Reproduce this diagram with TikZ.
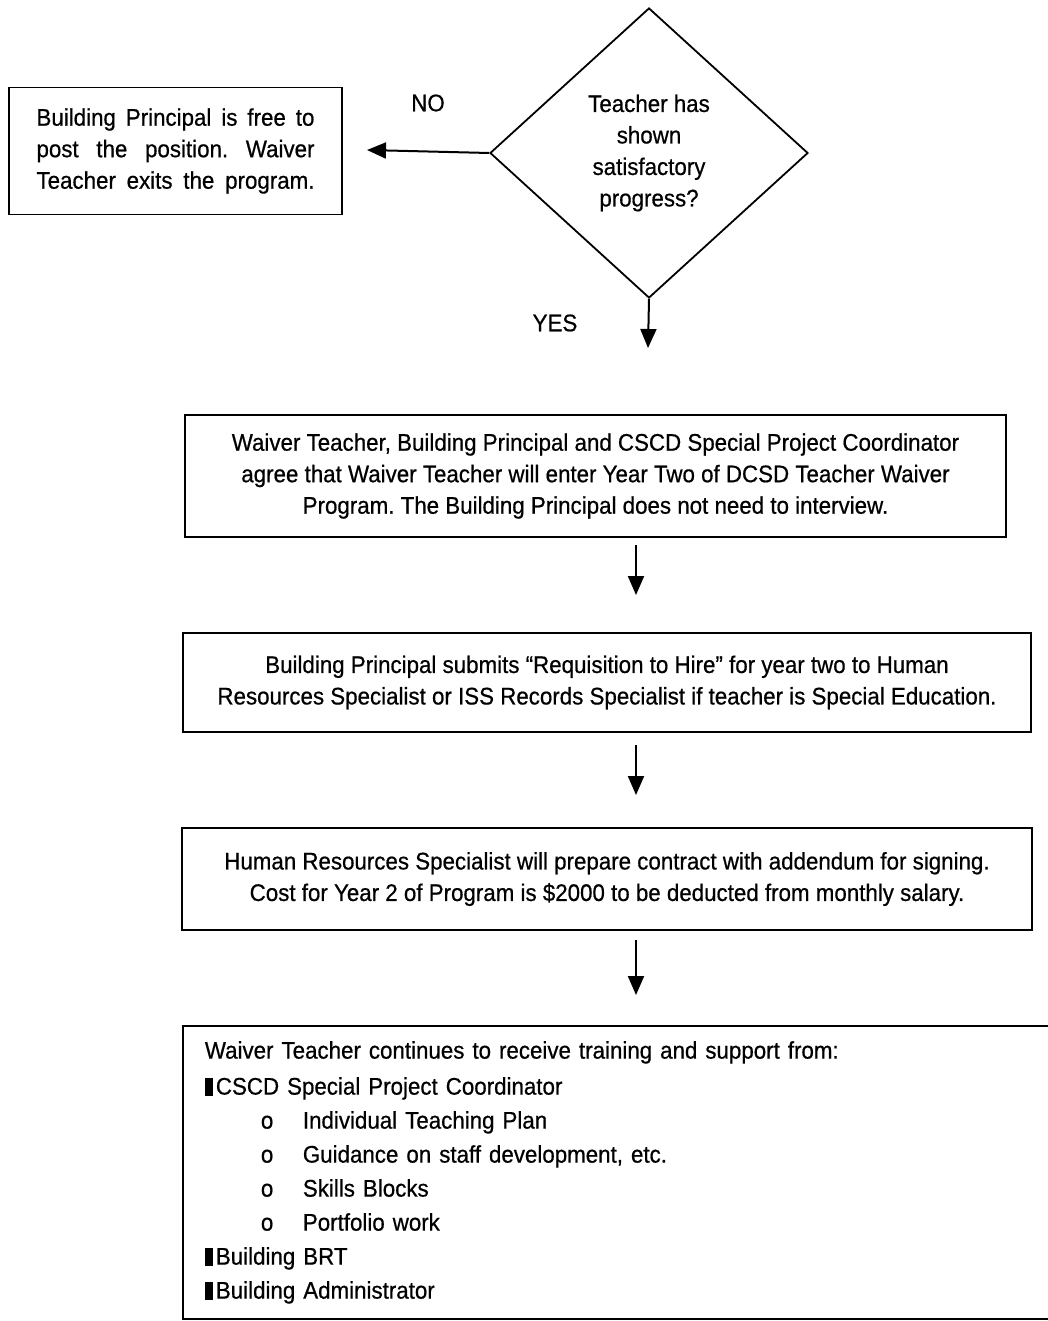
\documentclass[tikz,border=0pt]{standalone}
\usepackage{fontspec}
\setmainfont{Liberation Sans}[FakeStretch=0.93,FakeBold=0.6]
\usetikzlibrary{shapes.geometric,arrows.meta}
\newcommand{\sqb}{\rule[-1pt]{8pt}{18pt}\hspace{3pt}}
\newcommand{\obul}{\hspace*{56pt}\makebox[42pt][l]{o}}
\frenchspacing
\begin{document}
\begin{tikzpicture}[x=1pt,y=-1pt,
  every node/.style={font=\fontsize{24}{31.5}\selectfont},
  box/.style={draw,line width=1.8pt,inner sep=0pt,align=center},
  arr/.style={line width=2pt,-{Triangle[length=19pt,width=16pt]}},
  lbl/.style={inner sep=0pt}]
\useasboundingbox (0,0) rectangle (1047,1321);
\fill[white] (0,0) rectangle (1047,1321);

\node[draw,line width=1.8pt,diamond,inner sep=0pt,minimum width=318pt,minimum height=290pt,align=center] (dia) at (649,153) {Teacher has\\shown\\satisfactory\\progress?};

\node[box,minimum width=333pt,minimum height=127pt] (lbox) at (175.5,151)
 {\parbox{278pt}{\makebox[278pt][s]{Building Principal is free to}\\
  \makebox[278pt][s]{post the position. Waiver}\\
  \makebox[278pt][s]{Teacher exits the program.}}};

\node[lbl] (no) at (428,103) {NO};
\node[lbl] (yes) at (555,323) {YES};
\coordinate (noend) at (367,150);
\coordinate (yesend) at (648,348);
\draw[arr] (dia.west) -- (noend);
\draw[arr] (dia.south) -- (yesend);

\node[box,minimum width=821pt,minimum height=122pt] (b2) at (595.5,476)
 {Waiver Teacher, Building Principal and CSCD Special Project Coordinator\\
  agree that Waiver Teacher will enter Year Two of DCSD Teacher Waiver\\
  Program. The Building Principal does not need to interview.};

\node[box,minimum width=848pt,minimum height=99pt] (b3) at (607,682.5)
 {Building Principal submits “Requisition to Hire” for year two to Human\\
  Resources Specialist or ISS Records Specialist if teacher is Special Education.};

\node[box,minimum width=850pt,minimum height=102pt] (b4) at (607,879)
 {Human Resources Specialist will prepare contract with addendum for signing.\\
  Cost for Year 2 of Program is \$2000 to be deducted from monthly salary.};

\node[box,anchor=north west,minimum width=890pt,minimum height=293pt,text width=846pt,inner xsep=22pt,align=left,font=\fontsize{24}{34}\selectfont] (b5) at (182,1025)
 {Waiver Teacher continues to receive training and support from:\\[2pt]
  \sqb CSCD Special Project Coordinator\\
  \obul Individual Teaching Plan\\
  \obul Guidance on staff development, etc.\\
  \obul Skills Blocks\\
  \obul Portfolio work\\
  \sqb Building BRT\\
  \sqb Building Administrator\par\vspace{-8pt}};

\coordinate (a1s) at (636,545); \coordinate (a1e) at (636,595);
\coordinate (a2s) at (636,745); \coordinate (a2e) at (636,795);
\coordinate (a3s) at (636,940); \coordinate (a3e) at (636,995);
\draw[arr] (a1s) -- (a1e);
\draw[arr] (a2s) -- (a2e);
\draw[arr] (a3s) -- (a3e);
\end{tikzpicture}
\end{document}
